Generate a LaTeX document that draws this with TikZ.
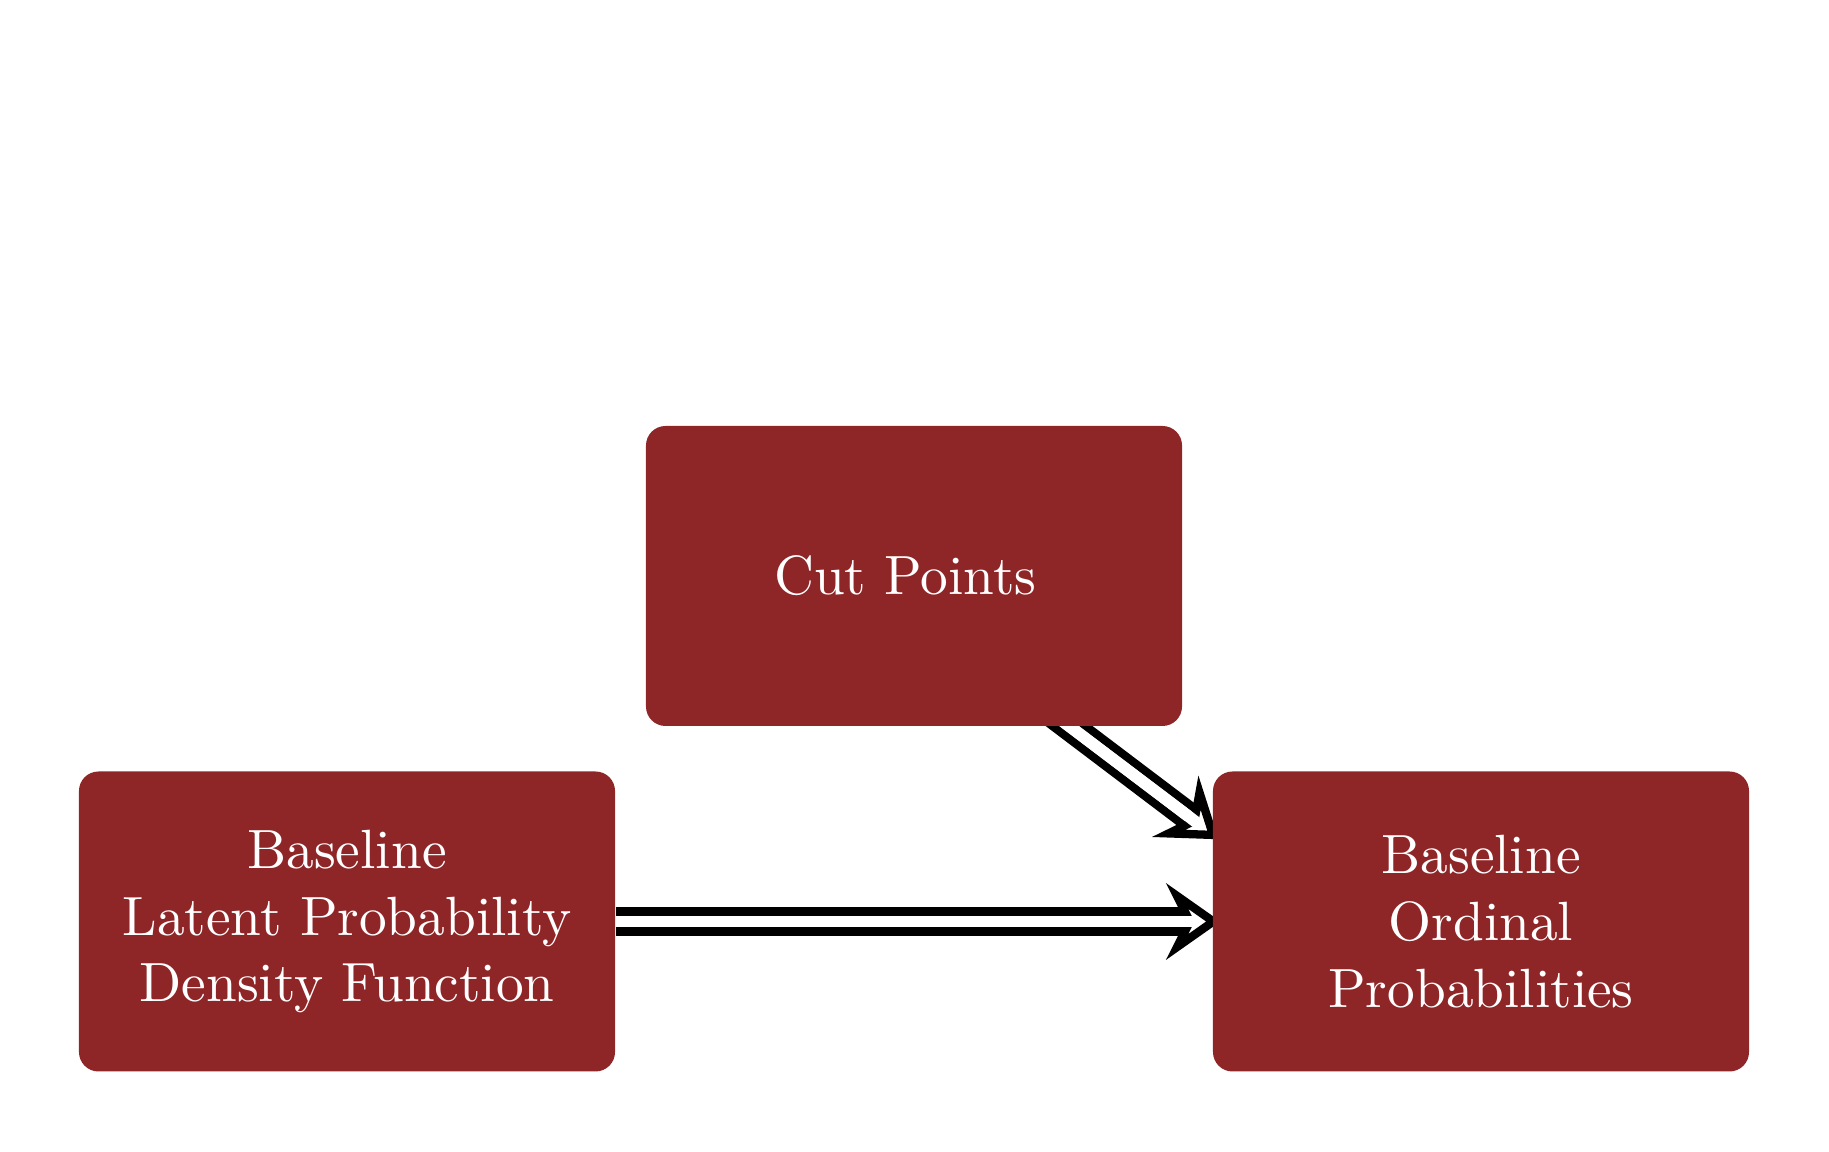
\documentclass[tikz,border=0pt]{standalone}
\usetikzlibrary{arrows.meta,backgrounds}
\definecolor{boxred}{RGB}{142,38,40}
\begin{document}
\begin{tikzpicture}[x=0.1845pt,y=-0.1845pt,
  redbox/.style={fill=boxred, text=white, rounded corners=3.6pt, align=center,
    minimum width=98.9pt, minimum height=55.35pt, inner sep=0pt,
    font=\fontsize{10.2}{12.3}\selectfont},
  dblarrow/.style={draw=black, double=white, line width=1.53pt, double distance=2.16pt,
    shorten >=-1.6pt,
    -{Stealth[open, length=10pt, width=14pt, inset=3.5pt, line width=1.53pt]}},
  gapfill/.style={draw=white, line width=2.16pt, shorten >=2.7pt}]
\useasboundingbox (0,0) rectangle (1829,1152);
\node[redbox] (cut) at (914,576) {Cut Points\hspace*{3.2pt}};
\node[redbox] (latent) at (347,921.5) {Baseline\\Latent Probability\\Density Function};
\node[redbox] (ordinal) at (1481,921.5) {Baseline\\Ordinal\\Probabilities};
\begin{scope}[on background layer]
\draw[dblarrow] (latent) -- (ordinal);
\draw[gapfill] (latent) -- (ordinal);
\draw[dblarrow, shorten <=-8pt] (cut.-44) -- (ordinal.162);
\draw[gapfill, shorten <=-8pt] (cut.-44) -- (ordinal.162);
\end{scope}
\end{tikzpicture}
\end{document}
